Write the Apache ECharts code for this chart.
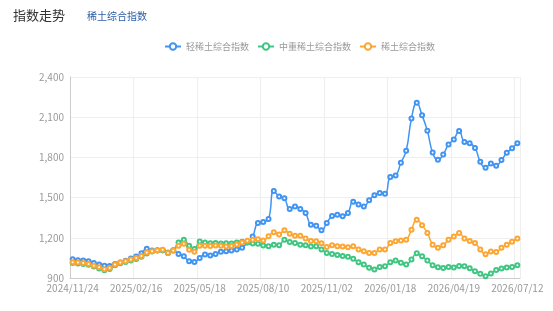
<!DOCTYPE html>
<html>
<head>
<meta charset="utf-8">
<script src="https://cdn.jsdelivr.net/npm/echarts@6/dist/echarts.min.js"></script>
<style>
html, body { margin: 0; padding: 0; background: #fff; }
#main { width: 553px; height: 311px; }
</style>
</head>
<body>
<div id="main"></div>
<script>
var dates = [
	'2024/11/24', '2024/12/01', '2024/12/08', '2024/12/15', '2024/12/22', '2024/12/29', '2025/01/05', '2025/01/12', '2025/01/19', '2025/01/26',
	'2025/02/02', '2025/02/09', '2025/02/16', '2025/02/23', '2025/03/02', '2025/03/09', '2025/03/16', '2025/03/23', '2025/03/30', '2025/04/06',
	'2025/04/13', '2025/04/20', '2025/04/27', '2025/05/11', '2025/05/18', '2025/05/25', '2025/06/01', '2025/06/08', '2025/06/15', '2025/06/22',
	'2025/06/29', '2025/07/06', '2025/07/13', '2025/07/20', '2025/07/27', '2025/08/03', '2025/08/10', '2025/08/17', '2025/08/24', '2025/08/31',
	'2025/09/07', '2025/09/14', '2025/09/21', '2025/09/28', '2025/10/05', '2025/10/12', '2025/10/19', '2025/10/26', '2025/11/02', '2025/11/09',
	'2025/11/16', '2025/11/23', '2025/11/30', '2025/12/07', '2025/12/14', '2025/12/21', '2025/12/28', '2025/12/31', '2026/01/04', '2026/01/11',
	'2026/01/18', '2026/01/25', '2026/02/01', '2026/02/08', '2026/02/15', '2026/03/01', '2026/03/08', '2026/03/15', '2026/03/22', '2026/03/29',
	'2026/04/05', '2026/04/12', '2026/04/19', '2026/04/26', '2026/05/03', '2026/05/10', '2026/05/17', '2026/05/24', '2026/05/31', '2026/06/07',
	'2026/06/14', '2026/06/21', '2026/06/28', '2026/07/05', '2026/07/12'
];

// 轻稀土综合指数
var lightIndex = [
	1040, 1033, 1030, 1025, 1012, 1000, 992, 990, 1005, 1015,
	1028, 1045, 1060, 1085, 1118, 1105, 1108, 1108, 1087, 1105,
	1080, 1062, 1025, 1020, 1050, 1075, 1068, 1080, 1095, 1100,
	1105, 1112, 1125, 1165, 1210, 1310, 1318, 1340, 1550, 1509,
	1495, 1415, 1434, 1415, 1385, 1298, 1290, 1256, 1310, 1362,
	1372, 1360, 1385, 1469, 1448, 1434, 1480, 1518, 1535, 1528,
	1653, 1664, 1760, 1850, 2090, 2207, 2114, 1998, 1836, 1782,
	1822, 1897, 1933, 1997, 1915, 1905, 1871, 1767, 1722, 1755,
	1738, 1781, 1834, 1869, 1906
];

// 中重稀土综合指数
var heavyIndex = [
	1012, 1008, 1005, 998, 985, 970, 958, 968, 995, 1010,
	1020, 1030, 1042, 1058, 1082, 1098, 1105, 1108, 1090, 1108,
	1165, 1186, 1140, 1117, 1172, 1165, 1160, 1162, 1158, 1160,
	1158, 1165, 1170, 1166, 1157, 1155, 1142, 1137, 1149, 1145,
	1186, 1169, 1162, 1149, 1145, 1135, 1137, 1112, 1087, 1080,
	1072, 1065, 1058, 1043, 1018, 1000, 976, 963, 983, 988,
	1018, 1030, 1013, 1000, 1038, 1085, 1062, 1030, 995, 980,
	975, 983, 978, 990, 988, 972, 951, 931, 913, 933,
	960, 971, 978, 983, 995
];

// 稀土综合指数
var totalIndex = [
	1018, 1015, 1012, 1005, 992, 980, 966, 975, 1000, 1015,
	1025, 1038, 1050, 1065, 1090, 1100, 1108, 1110, 1087, 1105,
	1140, 1155, 1110, 1095, 1140, 1140, 1138, 1142, 1140, 1135,
	1138, 1150, 1165, 1178, 1186, 1190, 1180, 1211, 1241, 1224,
	1256, 1231, 1216, 1216, 1195, 1177, 1174, 1160, 1132, 1144,
	1137, 1135, 1129, 1137, 1112, 1100, 1087, 1087, 1112, 1112,
	1162, 1174, 1179, 1186, 1261, 1335, 1293, 1236, 1149, 1125,
	1144, 1186, 1210, 1236, 1195, 1176, 1162, 1112, 1078, 1098,
	1094, 1125, 1149, 1170, 1195
];

var seriesNames = ['轻稀土综合指数', '中重稀土综合指数', '稀土综合指数'];
var colors = ['#4194f2', '#40c683', '#fca633'];

function makeSeries(name, data, color) {
	return {
		name: name,
		type: 'line',
		smooth: true,
		symbol: 'emptyCircle',
		symbolSize: 4,
		showAllSymbol: true,
		data: data,
		itemStyle: { color: color, borderWidth: 1 },
		lineStyle: { color: color, width: 1.5 }
	};
}

var myChart = echarts.init(document.getElementById('main'));
var option = {
	animation: false,
	textStyle: { fontFamily: '"Noto Sans CJK SC", "Noto Sans", sans-serif' },
	title: [{
		text: '指数走势',
		left: 8,
		top: 4,
		textStyle: { fontSize: 13, fontWeight: 'normal', color: '#333' }
	}, {
		text: '稀土综合指数',
		left: 82,
		top: 6,
		textStyle: { fontSize: 10, fontWeight: 'normal', color: '#2a5ca8' }
	}],
	legend: {
		left: 159,
		top: 37,
		itemWidth: 16,
		itemHeight: 8,
		itemGap: 8,
		textStyle: { fontSize: 9, color: '#999' },
		data: seriesNames
	},
	grid: {
		left: 70,
		right: 33,
		top: 77,
		bottom: 33
	},
	xAxis: {
		type: 'category',
		data: dates,
		axisLine: { lineStyle: { color: '#ccc' } },
		axisTick: { show: false },
		axisLabel: { interval: 11, color: '#999', fontSize: 10, margin: 5 },
		splitLine: { show: true, lineStyle: { color: '#eee' } }
	},
	yAxis: {
		type: 'value',
		min: 900,
		max: 2400,
		interval: 300,
		axisLine: { show: true, lineStyle: { color: '#ccc' } },
		axisLabel: { color: '#999', fontSize: 10, margin: 6 },
		splitLine: { lineStyle: { color: '#eee' } }
	},
	series: [
		makeSeries(seriesNames[0], lightIndex, colors[0]),
		makeSeries(seriesNames[1], heavyIndex, colors[1]),
		makeSeries(seriesNames[2], totalIndex, colors[2])
	]
};
myChart.setOption(option);
</script>
</body>
</html>
